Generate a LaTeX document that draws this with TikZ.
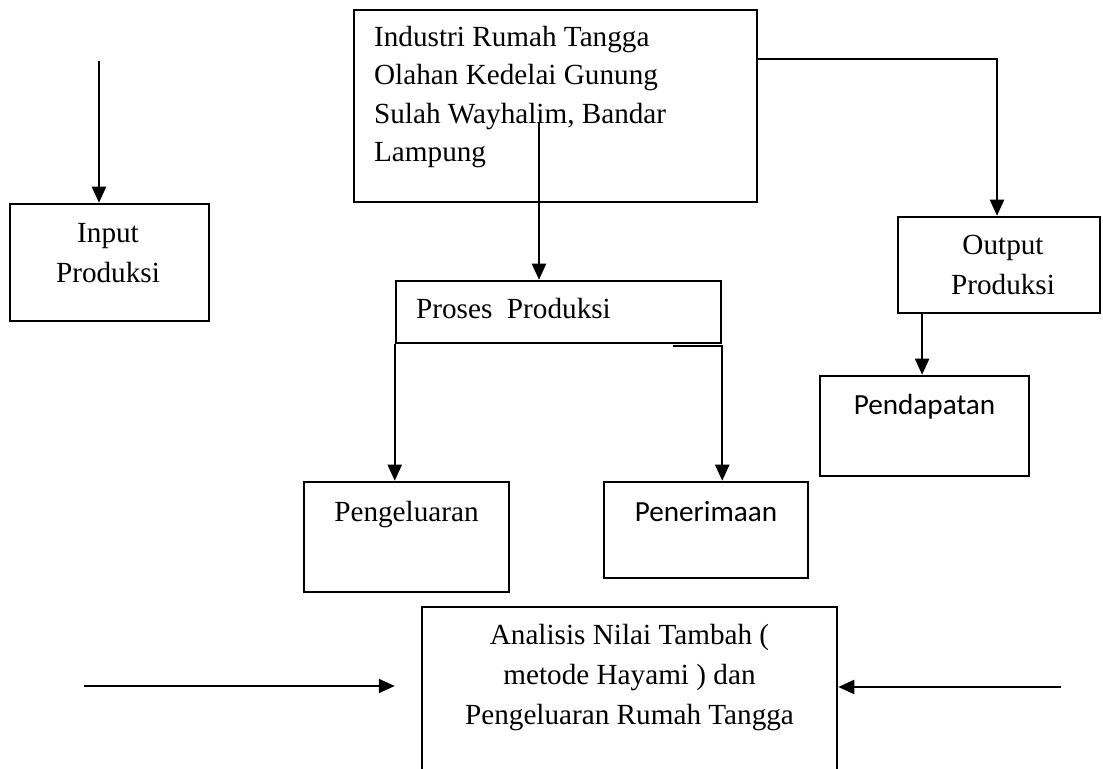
\documentclass[tikz,border=0pt]{standalone}
\usepackage{fontspec}
\setmainfont{Liberation Serif}
\newfontfamily\calibrifont{Carlito}
\usetikzlibrary{arrows.meta, positioning}

\tikzset{
  kotak/.style={draw, line width=1.25pt, inner sep=0pt},
  teks/.style={inner sep=0pt, align=center, font=\fontsize{14.6}{20}\selectfont},
  panah/.style={line width=1.1pt, -{Triangle[length=8pt,width=7pt]}},
}

\begin{document}
\begin{tikzpicture}[x=0.5pt, y=-0.5pt]
\useasboundingbox (0,0) rectangle (1103,769);
\clip (0,0) rectangle (1103,769);

% kotak
\node[kotak, minimum width=201.5pt, minimum height=96pt] (industri) at (555.5,106) {};
\node[kotak, minimum width=99.5pt, minimum height=58.5pt] (input) at (109.5,262.5) {};
\node[kotak, minimum width=162.5pt, minimum height=31pt] (proses) at (558.5,312) {};
\node[kotak, minimum width=101pt, minimum height=48pt] (output) at (999,265) {};
\node[kotak, minimum width=104.5pt, minimum height=50pt] (pendapatan) at (924.5,426) {};
\node[kotak, minimum width=102.5pt, minimum height=55pt] (pengeluaran) at (406.5,537) {};
\node[kotak, minimum width=102pt, minimum height=48pt] (penerimaan) at (706,530) {};
\node[kotak, minimum width=207.5pt, minimum height=96.5pt] (analisis) at (629.5,703.5) {};

% teks
\node[teks, align=left, font=\fontsize{14.6}{19.25}\selectfont, below right=8.5pt and 10.5pt of industri.north west] (industriT)
  {Industri Rumah Tangga\\Olahan Kedelai Gunung\\Sulah Wayhalim, Bandar\\Lampung};
\node[teks, below=10pt of input.north, xshift=-0.75pt] (inputT) {Input\\Produksi};
\node[teks, below right=9pt and 10.5pt of proses.north west] (prosesT) {Proses~\ Produksi};
\node[teks, below=9.5pt of output.north, xshift=2pt] (outputT) {Output\\Produksi};
\node[teks, font=\calibrifont\fontsize{14.6}{20}\selectfont, below=9.5pt of pendapatan.north] (pendapatanT) {Pendapatan};
\node[teks, below=10pt of pengeluaran.north] (pengeluaranT) {Pengeluaran};
\node[teks, font=\calibrifont\fontsize{14.6}{20}\selectfont, below=10pt of penerimaan.north] (penerimaanT) {Penerimaan};
\node[teks, below=9pt of analisis.north] (analisisT)
  {Analisis Nilai Tambah (\\metode Hayami ) dan\\Pengeluaran Rumah Tangga};

% panah
\coordinate (inputAtas) at (99,61);
\draw[panah] (inputAtas) -- (inputAtas |- input.north);
\coordinate (industriDalam) at (539,122);
\draw[panah] (industriDalam) -- (industriDalam |- proses.north);
\draw[panah] ([yshift=-25pt]industri.north east) -| ([xshift=-1pt]output.north);
\draw[panah] (proses.south west) -- (proses.south west |- pengeluaran.north);
\draw[panah] ([xshift=-24.5pt, yshift=-1pt]proses.south east) -| (proses.south east |- penerimaan.north);
\draw[panah] ([xshift=-1.2pt]output.south -| pendapatan.north) -- ([xshift=-1.2pt]pendapatan.north);
\coordinate (kiri) at (84,686);
\draw[panah] (kiri) -- ([xshift=-13pt]kiri -| analisis.west);
\coordinate (kanan) at (1061,687);
\draw[panah] (kanan) -- (kanan -| analisis.east);
\end{tikzpicture}
\end{document}
